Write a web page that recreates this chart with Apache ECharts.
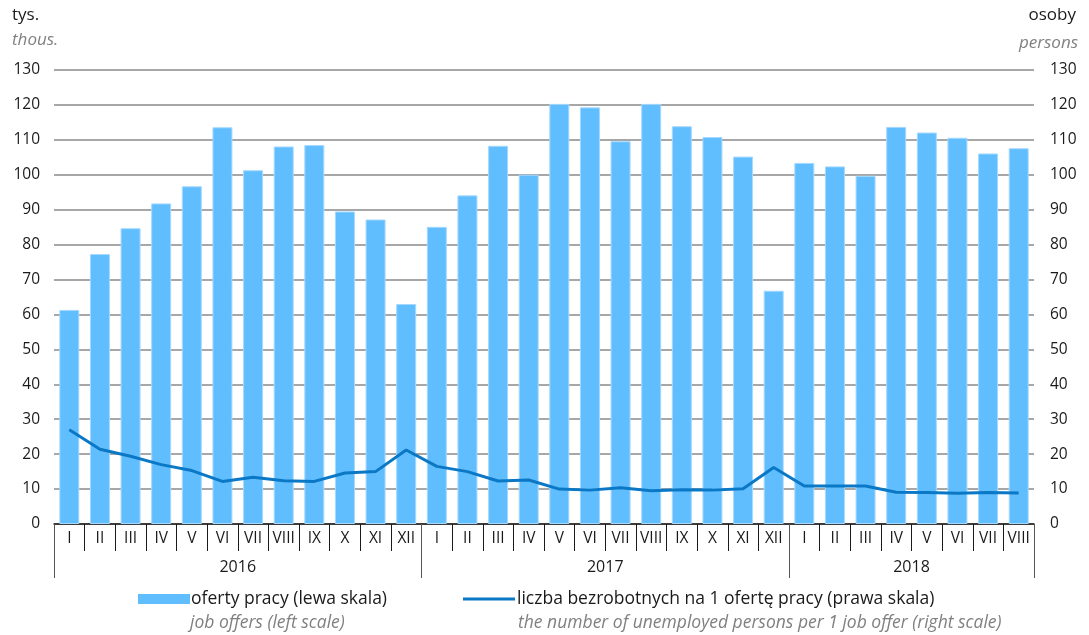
<!DOCTYPE html>
<html>
<head>
<meta charset="utf-8">
<script src="https://cdn.jsdelivr.net/npm/echarts@6/dist/echarts.min.js"></script>
<style>html,body{margin:0;padding:0;background:#fff}#c{width:1089px;height:635px}</style>
</head>
<body>
<div id="c"></div>
<script>
const months = ['I','II','III','IV','V','VI','VII','VIII','IX','X','XI','XII',
                'I','II','III','IV','V','VI','VII','VIII','IX','X','XI','XII',
                'I','II','III','IV','V','VI','VII','VIII'];
const years = ['2016','2017','2018'];
const yearBounds = [0, 12, 24, 32];
const yearCenters = [6, 18, 28];
const jobOffers = [61.3, 77.3, 84.7, 91.8, 96.7, 113.6, 101.3, 108.1, 108.5, 89.5, 87.2, 63.0,
                   85.1, 94.1, 108.3, 100.0, 120.3, 119.3, 109.6, 120.3, 113.9, 110.8, 105.2, 66.8,
                   103.4, 102.4, 99.7, 113.7, 112.1, 110.6, 106.1, 107.6];
const unemployedPerOffer = [27.0, 21.4, 19.4, 17.0, 15.3, 12.2, 13.4, 12.4, 12.2, 14.6, 15.0, 21.2,
                            16.5, 15.0, 12.3, 12.6, 10.0, 9.7, 10.4, 9.5, 9.8, 9.7, 10.1, 16.2,
                            10.9, 10.9, 10.9, 9.1, 9.0, 8.8, 9.0, 8.9];
const seriesNames = ['oferty pracy (lewa skala)', 'liczba bezrobotnych na 1 ofertę pracy (prawa skala)'];
const seriesNamesEn = ['job offers (left scale)', 'the number of unemployed persons per 1 job offer (right scale)'];
const axisNames = ['tys.', 'thous.', 'osoby', 'persons'];

const FONT = 'Open Sans';
const barColor = '#60beff';
const lineColor = '#0b78c6';

const chart = echarts.init(document.getElementById('c'));
chart.setOption({
  animation: false,
  textStyle: { fontFamily: FONT },
  grid: { left: 54, right: 55, top: 70, bottom: 111 },
  legend: [
    { data: [seriesNames[0]], left: 138, top: 590, padding: 0, itemWidth: 52, itemHeight: 10, icon: 'rect',
      itemStyle: { borderWidth: 0 },
      textStyle: { fontFamily: FONT, fontSize: 17.5, color: '#1a1a1a', padding: [0, 0, 0, -4] }, selectedMode: false },
    { data: [seriesNames[1]], left: 463, top: 590, padding: 0, itemWidth: 52, itemHeight: 3, icon: 'rect',
      itemStyle: { borderWidth: 0 },
      textStyle: { fontFamily: FONT, fontSize: 17.5, color: '#1a1a1a', padding: [0, 0, 0, -3] }, selectedMode: false }
  ],
  graphic: [
    { type: 'text', left: 12, top: 7, style: { text: axisNames[0], font: '17px "Open Sans"', fill: '#1a1a1a' } },
    { type: 'text', left: 12, top: 32, style: { text: axisNames[1], font: 'italic 17px "Open Sans"', fill: '#808080' } },
    { type: 'text', right: 13, top: 7, style: { text: axisNames[2], font: '17px "Open Sans"', fill: '#1a1a1a' } },
    { type: 'text', right: 11, top: 35, style: { text: axisNames[3], font: 'italic 17px "Open Sans"', fill: '#808080' } },
    { type: 'text', left: 190, top: 614, style: { text: seriesNamesEn[0], font: 'italic 17.5px "Open Sans"', fill: '#808080' } },
    { type: 'text', left: 518, top: 614, style: { text: seriesNamesEn[1], font: 'italic 17.5px "Open Sans"', fill: '#808080' } }
  ],
  xAxis: [
    {
      type: 'category', data: months, boundaryGap: true, position: 'bottom',
      axisLine: { lineStyle: { color: '#1a1a1a', width: 1.5 } },
      axisTick: { show: true, interval: 0, length: 27, lineStyle: { color: '#1a1a1a' } },
      axisLabel: { interval: 0, margin: 7, fontSize: 15.5, color: '#1a1a1a', fontFamily: FONT }
    },
    {
      type: 'value', min: 0, max: 32, position: 'bottom',
      axisLine: { show: false },
      splitLine: { show: false },
      axisTick: { show: true, customValues: yearBounds, length: 54, lineStyle: { color: '#555' } },
      axisLabel: { customValues: yearCenters, margin: 35, fontSize: 16, color: '#1a1a1a', fontFamily: FONT,
        formatter: v => years[yearCenters.indexOf(v)] }
    }
  ],
  yAxis: [
    {
      type: 'value', min: 0, max: 130, interval: 10, position: 'left',
      axisLine: { show: false }, axisTick: { show: false },
      splitLine: { show: true, lineStyle: { color: '#8a8a8a', width: 1.5 } },
      axisLabel: { margin: 14, fontSize: 15.5, color: '#1a1a1a', fontFamily: FONT }
    },
    {
      type: 'value', min: 0, max: 130, interval: 10, position: 'right',
      axisLine: { show: false }, axisTick: { show: false }, splitLine: { show: false },
      axisLabel: { margin: 16, fontSize: 15.5, color: '#1a1a1a', fontFamily: FONT }
    }
  ],
  series: [
    { name: seriesNames[0], type: 'bar', xAxisIndex: 0, yAxisIndex: 0, data: jobOffers, barWidth: 20,
      itemStyle: { color: barColor, borderColor: '#a6d9ff', borderWidth: 1 } },
    { name: seriesNames[1], type: 'line', xAxisIndex: 0, yAxisIndex: 1, data: unemployedPerOffer,
      symbol: 'none', lineStyle: { color: lineColor, width: 3 }, itemStyle: { color: lineColor }, z: 5 }
  ]
});
</script>
</body>
</html>
